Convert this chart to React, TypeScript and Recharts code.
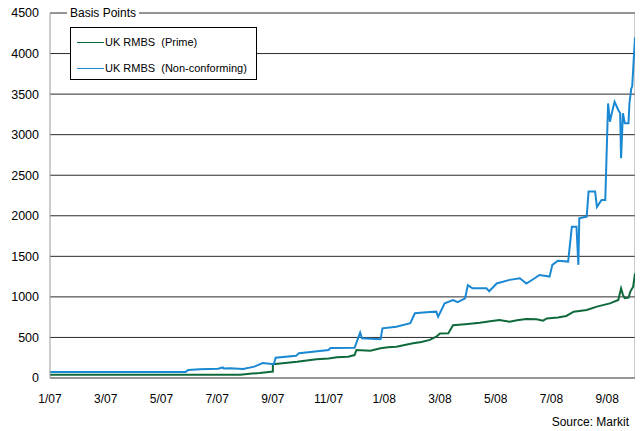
import React from 'react';
import { LineChart, Line, XAxis, YAxis, CartesianGrid, ReferenceLine, Legend } from 'recharts';

const FONT = '"Liberation Sans", Arial, sans-serif';

const xTickMonths = [0, 2, 4, 6, 8, 10, 12, 14, 16, 18, 20];
const xTickLabels = ['1/07', '3/07', '5/07', '7/07', '9/07', '11/07', '1/08', '3/08', '5/08', '7/08', '9/08'];
const yTicks = [0, 500, 1000, 1500, 2000, 2500, 3000, 3500, 4000, 4500];

const primeName = 'UK RMBS  (Prime)';
const nonConfName = 'UK RMBS  (Non-conforming)';
const legendOrder = [primeName, nonConfName];

const primeDates = [
  '2007-01-01', '2007-07-26', '2007-08-06', '2007-08-17', '2007-08-29', '2007-08-31', '2007-09-01',
  '2007-09-09', '2007-09-27', '2007-10-18', '2007-11-01', '2007-11-10', '2007-11-22', '2007-11-29', '2007-12-01',
  '2007-12-16', '2007-12-27', '2008-01-05', '2008-01-14', '2008-02-02', '2008-02-11', '2008-02-20', '2008-02-27',
  '2008-03-01', '2008-03-10', '2008-03-15', '2008-03-28', '2008-04-14', '2008-04-25', '2008-05-05', '2008-05-16',
  '2008-05-24', '2008-06-04', '2008-06-15', '2008-06-22', '2008-06-26', '2008-07-08', '2008-07-17', '2008-07-25',
  '2008-08-09', '2008-08-20', '2008-09-04', '2008-09-13', '2008-09-16', '2008-09-18', '2008-09-20', '2008-09-24',
  '2008-09-26', '2008-09-29', '2008-10-01',
];
const primeValues = [
  40, 40, 52, 62, 78, 80, 170,
  180, 200, 230, 240, 255, 262, 283, 345,
  335, 366, 380, 386, 428, 445, 470, 509,
  550, 552, 650, 662, 680, 700, 715, 695,
  712, 728, 723, 707, 735, 745, 765, 818,
  838, 880, 920, 962, 1105, 1025, 983, 990,
  1065, 1125, 1290,
];

const nonConfDates = [
  '2007-01-01', '2007-05-27', '2007-05-30', '2007-06-12', '2007-07-02', '2007-07-07', '2007-07-08',
  '2007-07-15', '2007-07-29', '2007-08-11', '2007-08-20', '2007-09-02', '2007-09-04', '2007-09-26',
  '2007-09-29', '2007-10-14', '2007-11-01', '2007-11-03', '2007-11-29', '2007-12-05', '2007-12-07',
  '2007-12-27', '2007-12-29', '2008-01-14', '2008-01-29', '2008-02-04', '2008-02-20', '2008-02-27',
  '2008-02-29', '2008-03-06', '2008-03-15', '2008-03-20', '2008-03-28', '2008-04-01', '2008-04-06',
  '2008-04-21', '2008-04-24', '2008-05-02', '2008-05-16', '2008-05-27', '2008-06-04', '2008-06-13',
  '2008-06-18', '2008-06-29', '2008-07-02', '2008-07-08', '2008-07-19', '2008-07-23', '2008-07-28',
  '2008-07-30', '2008-08-01', '2008-08-09', '2008-08-11', '2008-08-18', '2008-08-20', '2008-08-25',
  '2008-08-29', '2008-09-02', '2008-09-04', '2008-09-06', '2008-09-09', '2008-09-13', '2008-09-15',
  '2008-09-16', '2008-09-18', '2008-09-20', '2008-09-24', '2008-09-25', '2008-09-27', '2008-09-28',
  '2008-10-01',
];
const nonConfValues = [
  75, 75, 100, 107, 115, 130, 118,
  120, 112, 140, 185, 170, 250, 275,
  305, 325, 345, 370, 372, 560, 490,
  477, 612, 632, 675, 798, 815, 818,
  755, 920, 960, 935, 982, 1145, 1105,
  1105, 1070, 1165, 1210, 1230, 1165, 1230,
  1270, 1250, 1395, 1445, 1435, 1865, 1865,
  1395, 1970, 1990, 2300, 2300, 2110, 2195,
  2195, 3385, 3160, 3265, 3405, 3305, 3265,
  2710, 3265, 3140, 3140, 3385, 3570, 3595,
  4200,
];

function monthIndex(d: string): number {
  const [y, m, day] = d.split('-').map(Number);
  return (y - 2007) * 12 + (m - 1) + (day - 1) / 30;
}

const primeData = primeDates.map((d, i) => ({ t: monthIndex(d), v: primeValues[i] }));
const nonConfData = nonConfDates.map((d, i) => ({ t: monthIndex(d), v: nonConfValues[i] }));

const GREEN = '#0f6a3b';
const BLUE = '#1a88d2';

const LegendBox = (props: any) => {
  const payload = props.payload || [];
  const items = legendOrder
    .map((n) => payload.find((p: any) => p.value === n))
    .filter(Boolean);
  return (
    <div
      style={{
        width: 185,
        height: 51,
        border: '1px solid #000',
        background: '#fff',
        fontFamily: FONT,
        fontSize: 11,
        color: '#000',
        position: 'relative',
      }}
    >
      {items.map((p: any, i: number) => (
        <div
          key={i}
          style={{
            position: 'absolute',
            left: 6,
            top: i === 0 ? 7 : 33,
            height: 14,
            display: 'flex',
            alignItems: 'center',
            whiteSpace: 'pre',
          }}
        >
          <span style={{ display: 'inline-block', width: 27, height: 1, background: p.color, marginRight: 1 }} />
          <span>{p.value}</span>
        </div>
      ))}
    </div>
  );
};

export default function App() {
  return (
    <div style={{ position: 'relative', width: 635, height: 431, marginTop: -8 }}>
      <LineChart
        width={635}
        height={431}
        margin={{ top: 13, right: 8, bottom: 23, left: 0 }}
        style={{ fontFamily: FONT }}
      >
        <CartesianGrid horizontal vertical={false} stroke="#2a2a2a" strokeWidth={1} />
        <XAxis
          type="number"
          dataKey="t"
          domain={[0, 21]}
          ticks={xTickMonths}
          tickFormatter={(v: number) => xTickLabels[xTickMonths.indexOf(v)] ?? ''}
          allowDataOverflow
          tickLine={false}
          tickSize={0}
          tickMargin={16}
          axisLine={{ stroke: '#999' }}
          tick={{ fontSize: 12, fill: '#000', fontFamily: FONT }}
          interval={0}
        />
        <YAxis
          type="number"
          domain={[0, 4500]}
          ticks={yTicks}
          width={42}
          tickLine={false}
          tickSize={0}
          tickMargin={11}
          axisLine={{ stroke: '#999' }}
          tick={{ fontSize: 12.5, fill: '#000', fontFamily: FONT }}
          interval={0}
        />
        <ReferenceLine x={21} stroke="#999" />
        <Legend
          layout="vertical"
          align="center"
          verticalAlign="middle"
          content={<LegendBox />}
          wrapperStyle={{ left: 62, top: 27, width: 187, height: 53 }}
        />
        <Line
          data={primeData}
          dataKey="v"
          name={primeName}
          type="linear"
          stroke={GREEN}
          strokeWidth={2}
          dot={false}
          isAnimationActive={false}
        />
        <Line
          data={nonConfData}
          dataKey="v"
          name={nonConfName}
          type="linear"
          stroke={BLUE}
          strokeWidth={2}
          dot={false}
          isAnimationActive={false}
        />
      </LineChart>
      <div
        style={{
          position: 'absolute',
          left: 59,
          top: 5,
          padding: '0 3px',
          background: '#fff',
          fontFamily: FONT,
          fontSize: 12,
          lineHeight: '16px',
          color: '#000',
        }}
      >
        Basis Points
      </div>
      <div
        style={{
          position: 'absolute',
          right: 14,
          top: 415,
          fontFamily: FONT,
          fontSize: 12,
          lineHeight: '14px',
          color: '#000',
        }}
      >
        Source: Markit
      </div>
    </div>
  );
}
